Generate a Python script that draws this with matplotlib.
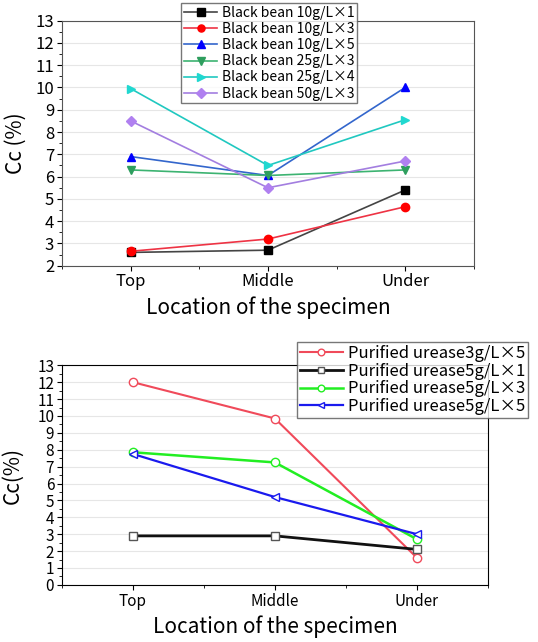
import matplotlib
matplotlib.use('Agg')
import matplotlib.pyplot as plt
import numpy as np
from matplotlib.ticker import MultipleLocator

plt.rcParams['font.family'] = ['Noto Sans CJK JP', 'DejaVu Sans']

# categories
locations = ["Top", "Middle", "Under"]
x = np.arange(len(locations))

# top panel: black bean
bb_labels = ["Black bean 10g/L×1", "Black bean 10g/L×3", "Black bean 10g/L×5",
             "Black bean 25g/L×3", "Black bean 25g/L×4", "Black bean 50g/L×3"]
bb_10x1 = [2.6, 2.7, 5.4]
bb_10x3 = [2.65, 3.2, 4.65]
bb_10x5 = [6.9, 6.05, 10.0]
bb_25x3 = [6.3, 6.05, 6.3]
bb_25x4 = [9.95, 6.5, 8.55]
bb_50x3 = [8.5, 5.5, 6.7]

# bottom panel: purified urease
pu_labels = ["Purified urease3g/L×5", "Purified urease5g/L×1",
             "Purified urease5g/L×3", "Purified urease5g/L×5"]
pu_3x5 = [12.0, 9.85, 1.6]
pu_5x1 = [2.9, 2.9, 2.1]
pu_5x3 = [7.85, 7.25, 2.7]
pu_5x5 = [7.75, 5.2, 3.0]

fig = plt.figure(figsize=(5.38, 6.42), dpi=100)

# ---- top panel
ax1 = fig.add_axes([0.115, 0.586, 0.766, 0.382])
top_series = [
    (bb_10x1, 's', '#000000', '#444444'),
    (bb_10x3, 'o', '#ff0000', '#ee3344'),
    (bb_10x5, '^', '#0000ff', '#3366cc'),
    (bb_25x3, 'v', '#2e9e5e', '#3cb371'),
    (bb_25x4, '>', '#20d8d0', '#20c8c0'),
    (bb_50x3, 'D', '#b080f0', '#a37ee0'),
]
for (vals, mk, mc, lc), lab in zip(top_series, bb_labels):
    ax1.plot(x, vals, color=lc, lw=1.2, marker=mk, ms=6 if mk != 'D' else 5.5,
             mfc=mc, mec=mc, label=lab)
ax1.set_xlim(-0.5, 2.5)
ax1.set_ylim(2, 13)
ax1.set_xticks(x)
ax1.set_xticklabels(locations)
ax1.xaxis.set_minor_locator(MultipleLocator(0.5))
ax1.yaxis.set_major_locator(MultipleLocator(1))
ax1.yaxis.set_minor_locator(MultipleLocator(0.5))
ax1.tick_params(axis='both', labelsize=12, pad=2)
ax1.tick_params(which='both', top=False, right=False, direction='out')
ax1.grid(axis='y', color='#e6e6e6', lw=0.8)
ax1.set_axisbelow(True)
for s in ax1.spines.values():
    s.set_color('#555555')
ax1.set_ylabel("Cc (%)", fontsize=15)
ax1.yaxis.set_label_coords(-0.085, 0.5)
ax1.set_xlabel("Location of the specimen", fontsize=15)
leg1 = ax1.legend(loc='upper left', bbox_to_anchor=(0.29, 1.07), fontsize=10,
                  frameon=True, fancybox=False, edgecolor='#555555',
                  borderpad=0.2, labelspacing=0.15, handlelength=2.4,
                  handletextpad=0.3, borderaxespad=0, markerscale=0.85)

# ---- bottom panel
ax2 = fig.add_axes([0.115, 0.089, 0.792, 0.342])
bot_series = [
    (pu_3x5, 'o', '#f04a5a', 1.5),
    (pu_5x1, 's', '#111111', 2.0),
    (pu_5x3, 'o', '#22ee22', 1.8),
    (pu_5x5, '<', '#1a1aee', 1.6),
]
for (vals, mk, c, lw), lab in zip(bot_series, pu_labels):
    ax2.plot(x, vals, color=c, lw=lw, marker=mk, ms=6, mfc='white',
             mec=c if c != '#111111' else '#555555', mew=1.0, label=lab)
ax2.set_xlim(-0.5, 2.5)
ax2.set_ylim(0, 13)
ax2.set_xticks(x)
ax2.set_xticklabels(locations)
ax2.xaxis.set_minor_locator(MultipleLocator(0.5))
ax2.yaxis.set_major_locator(MultipleLocator(1))
ax2.yaxis.set_minor_locator(MultipleLocator(0.5))
ax2.tick_params(axis='both', labelsize=11, pad=2)
ax2.tick_params(which='both', top=False, right=False, direction='out')
ax2.grid(axis='y', color='#e6e6e6', lw=0.8)
ax2.set_axisbelow(True)
ax2.set_ylabel("Cc(%)", fontsize=15)
ax2.yaxis.set_label_coords(-0.09, 0.5)
ax2.set_xlabel("Location of the specimen", fontsize=15)
leg2 = ax2.legend(loc='upper left', bbox_to_anchor=(0.552, 1.105), fontsize=12,
                  frameon=True, fancybox=False, edgecolor='#555555',
                  borderpad=0.15, labelspacing=0.05, handlelength=2.6,
                  handletextpad=0.3, borderaxespad=0, markerscale=0.8)

fig.savefig("out.png", dpi=100)
